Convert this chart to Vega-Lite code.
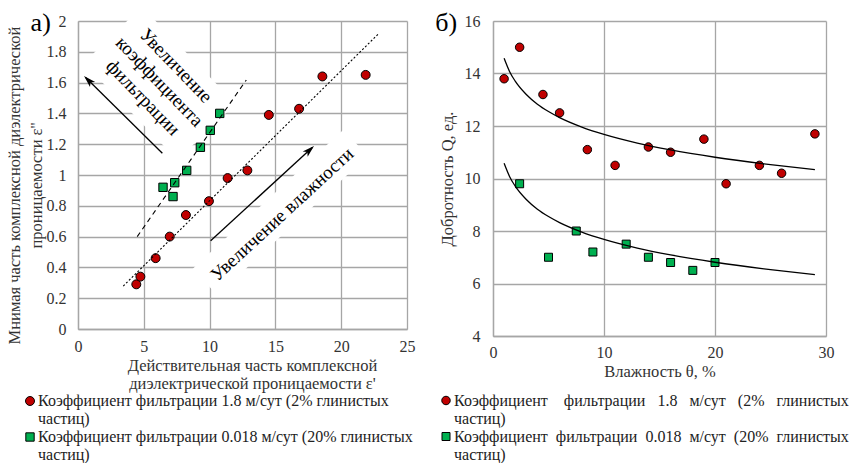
{
  "$schema": "https://vega.github.io/schema/vega-lite/v6.json",
  "padding": {"left": 6, "top": 6, "right": 0, "bottom": 0},
  "background": "white",
  "spacing": 20,
  "config": {
    "font": "Liberation Serif, Times New Roman, DejaVu Serif, serif",
    "view": {"stroke": null},
    "axis": {
      "grid": true, "gridColor": "#a6a6a6", "gridWidth": 1.3,
      "domainColor": "#a6a6a6", "domainWidth": 1.3, "ticks": false, "tickSize": 0,
      "labelOverlap": false, "labelBound": false, "labelFlush": false,
      "labelFont": "Liberation Serif, Times New Roman, DejaVu Serif, serif", "labelFontSize": 16, "labelColor": "#333333",
      "titleFont": "Liberation Serif, Times New Roman, DejaVu Serif, serif", "titleFontSize": 16.5, "titleFontWeight": "normal", "titleColor": "#333333"
    },
    "legend": {
      "labelFont": "Liberation Serif, Times New Roman, DejaVu Serif, serif", "labelFontSize": 16, "labelColor": "#222222", "labelLimit": 1000
    },
    "text": {"font": "Liberation Serif, Times New Roman, DejaVu Serif, serif"}
  },
  "resolve": {
    "scale": {"color": "independent", "shape": "independent", "size": "independent"},
    "legend": {"color": "independent", "shape": "independent"}
  },
  "hconcat": [
    {
      "width": 329,
      "height": 308,
      "layer": [
        {
          "data": {"values": [{}]},
          "mark": {"type": "point", "shape": "M-1,-0.6H1V0.6H-1Z", "filled": true, "fill": "white", "stroke": null, "opacity": 1, "size": 18225, "angle": 46},
          "encoding": {
            "x": {"datum": 6.2, "type": "quantitative", "scale": {"domain": [0, 25], "nice": false},
              "axis": {
                "title": ["Действительная часть комплексной", "диэлектрической проницаемости ε'"],
                "values": [0, 5, 10, 15, 20, 25], "tickCount": 6, "labelPadding": 9, "titlePadding": 3,
                "titleLineHeight": 18, "titleX": 174
              }},
            "y": {"datum": 1.595, "type": "quantitative", "scale": {"domain": [0, 2], "nice": false},
              "axis": {
                "title": ["Мнимая часть комплексной диэлектрической", "проницаемости ε''"],
                "values": [0, 0.2, 0.4, 0.6, 0.8, 1, 1.2, 1.4, 1.6, 1.8, 2], "tickCount": 11, "format": "~g",
                "labelPadding": 12, "titlePadding": 2, "titleLineHeight": 22, "titleY": 164
              }}
          }
        },
        {
          "data": {"values": [{}]},
          "mark": {"type": "point", "shape": "M-1,-0.2H1V0.15H-1Z", "filled": true, "fill": "white", "stroke": null, "opacity": 1, "size": 42025, "angle": -42.7},
          "encoding": {"x": {"datum": 15.5, "type": "quantitative"}, "y": {"datum": 0.745, "type": "quantitative"}}
        },
        {
          "data": {"values": [
            {"e1": 4.43, "e2": 0.29, "series": "Коэффициент фильтрации 1.8 м/сут (2% глинистых частиц)"},
            {"e1": 4.74, "e2": 0.34, "series": "Коэффициент фильтрации 1.8 м/сут (2% глинистых частиц)"},
            {"e1": 5.9, "e2": 0.46, "series": "Коэффициент фильтрации 1.8 м/сут (2% глинистых частиц)"},
            {"e1": 6.97, "e2": 0.6, "series": "Коэффициент фильтрации 1.8 м/сут (2% глинистых частиц)"},
            {"e1": 8.2, "e2": 0.74, "series": "Коэффициент фильтрации 1.8 м/сут (2% глинистых частиц)"},
            {"e1": 9.95, "e2": 0.83, "series": "Коэффициент фильтрации 1.8 м/сут (2% глинистых частиц)"},
            {"e1": 11.37, "e2": 0.98, "series": "Коэффициент фильтрации 1.8 м/сут (2% глинистых частиц)"},
            {"e1": 12.87, "e2": 1.03, "series": "Коэффициент фильтрации 1.8 м/сут (2% глинистых частиц)"},
            {"e1": 14.5, "e2": 1.39, "series": "Коэффициент фильтрации 1.8 м/сут (2% глинистых частиц)"},
            {"e1": 16.8, "e2": 1.43, "series": "Коэффициент фильтрации 1.8 м/сут (2% глинистых частиц)"},
            {"e1": 18.57, "e2": 1.64, "series": "Коэффициент фильтрации 1.8 м/сут (2% глинистых частиц)"},
            {"e1": 21.86, "e2": 1.65, "series": "Коэффициент фильтрации 1.8 м/сут (2% глинистых частиц)"},
            {"e1": 6.46, "e2": 0.92, "series": "Коэффициент фильтрации 0.018 м/сут (20% глинистых частиц)"},
            {"e1": 7.22, "e2": 0.86, "series": "Коэффициент фильтрации 0.018 м/сут (20% глинистых частиц)"},
            {"e1": 7.35, "e2": 0.95, "series": "Коэффициент фильтрации 0.018 м/сут (20% глинистых частиц)"},
            {"e1": 8.26, "e2": 1.03, "series": "Коэффициент фильтрации 0.018 м/сут (20% глинистых частиц)"},
            {"e1": 9.3, "e2": 1.18, "series": "Коэффициент фильтрации 0.018 м/сут (20% глинистых частиц)"},
            {"e1": 10.05, "e2": 1.29, "series": "Коэффициент фильтрации 0.018 м/сут (20% глинистых частиц)"},
            {"e1": 10.77, "e2": 1.4, "series": "Коэффициент фильтрации 0.018 м/сут (20% глинистых частиц)"}
          ]},
          "mark": {"type": "point", "filled": true, "stroke": "black", "strokeWidth": 1, "opacity": 1},
          "encoding": {
            "x": {
              "field": "e1", "type": "quantitative",
              "scale": {"domain": [0, 25], "nice": false},
              "axis": {
                "title": ["Действительная часть комплексной", "диэлектрической проницаемости ε'"],
                "values": [0, 5, 10, 15, 20, 25], "tickCount": 6, "labelPadding": 9, "titlePadding": 3,
                "titleLineHeight": 18, "titleX": 174
              }
            },
            "y": {
              "field": "e2", "type": "quantitative",
              "scale": {"domain": [0, 2], "nice": false},
              "axis": {
                "title": ["Мнимая часть комплексной диэлектрической", "проницаемости ε''"],
                "values": [0, 0.2, 0.4, 0.6, 0.8, 1, 1.2, 1.4, 1.6, 1.8, 2], "tickCount": 11, "format": "~g",
                "labelPadding": 12, "titlePadding": 2, "titleLineHeight": 22, "titleY": 164
              }
            },
            "color": {
              "field": "series", "type": "nominal",
              "scale": {"domain": ["Коэффициент фильтрации 1.8 м/сут (2% глинистых частиц)", "Коэффициент фильтрации 0.018 м/сут (20% глинистых частиц)"], "range": ["#c00000", "#00b050"]},
              "legend": {
                "title": null, "orient": "none", "legendX": -56, "legendY": 372, "direction": "vertical",
                "symbolSize": 64, "symbolStrokeColor": "black", "symbolStrokeWidth": 1, "labelOffset": 0,
                "rowPadding": 2, "padding": 0, "labelBaseline": "middle",
                "labelExpr": "[slice(datum.label, 0, indexof(datum.label, ' частиц')), 'частиц)']",
                "encode": {"labels": {"update": {"dy": {"value": 9}, "lineHeight": {"value": 18}}}}
              }
            },
            "shape": {
              "field": "series", "type": "nominal",
              "scale": {"domain": ["Коэффициент фильтрации 1.8 м/сут (2% глинистых частиц)", "Коэффициент фильтрации 0.018 м/сут (20% глинистых частиц)"], "range": ["circle", "square"]},
              "legend": {
                "title": null, "orient": "none", "legendX": -56, "legendY": 372, "direction": "vertical",
                "symbolSize": 64, "symbolStrokeColor": "black", "symbolStrokeWidth": 1, "labelOffset": 0,
                "rowPadding": 2, "padding": 0, "labelBaseline": "middle",
                "labelExpr": "[slice(datum.label, 0, indexof(datum.label, ' частиц')), 'частиц)']",
                "encode": {"labels": {"update": {"dy": {"value": 9}, "lineHeight": {"value": 18}}}}
              }
            },
            "size": {
              "field": "series", "type": "nominal",
              "scale": {"domain": ["Коэффициент фильтрации 1.8 м/сут (2% глинистых частиц)", "Коэффициент фильтрации 0.018 м/сут (20% глинистых частиц)"], "range": [80, 70]},
              "legend": null
            }
          }
        },
        {
          "data": {"values": [{}]},
          "mark": {"type": "rule", "color": "black", "strokeWidth": 1.1, "strokeDash": [2, 2]},
          "encoding": {"x": {"datum": 3.44, "type": "quantitative"}, "y": {"datum": 0.279, "type": "quantitative"}, "x2": {"datum": 22.87}, "y2": {"datum": 1.92}}
        },
        {
          "data": {"values": [{}]},
          "mark": {"type": "rule", "color": "black", "strokeWidth": 1.1, "strokeDash": [5, 4]},
          "encoding": {"x": {"datum": 4.5, "type": "quantitative"}, "y": {"datum": 0.6, "type": "quantitative"}, "x2": {"datum": 12.79}, "y2": {"datum": 1.617}}
        },
        {
          "data": {"values": [{}]},
          "mark": {"type": "rule", "color": "black", "strokeWidth": 1.3},
          "encoding": {"x": {"datum": 6.41, "type": "quantitative"}, "y": {"datum": 1.141, "type": "quantitative"}, "x2": {"datum": 0.6}, "y2": {"datum": 1.632}}
        },
        {
          "data": {"values": [{}]},
          "mark": {"type": "point", "shape": "M0,-1L0.55,0.8L0,0.35L-0.55,0.8Z", "filled": true, "fill": "black", "stroke": null, "opacity": 1, "size": 178, "angle": -45.4},
          "encoding": {"x": {"datum": 0.82, "type": "quantitative"}, "y": {"datum": 1.612, "type": "quantitative"}}
        },
        {
          "data": {"values": [{}]},
          "mark": {"type": "rule", "color": "black", "strokeWidth": 1.3},
          "encoding": {"x": {"datum": 10.08, "type": "quantitative"}, "y": {"datum": 0.573, "type": "quantitative"}, "x2": {"datum": 17.8}, "y2": {"datum": 1.178}}
        },
        {
          "data": {"values": [{}]},
          "mark": {"type": "point", "shape": "M0,-1L0.55,0.8L0,0.35L-0.55,0.8Z", "filled": true, "fill": "black", "stroke": null, "opacity": 1, "size": 178, "angle": 47.5},
          "encoding": {"x": {"datum": 17.56, "type": "quantitative"}, "y": {"datum": 1.159, "type": "quantitative"}}
        },
        {
          "data": {"values": [{}]},
          "mark": {"type": "text", "fontSize": 19, "lineHeight": 23, "angle": 46, "align": "center", "baseline": "middle", "color": "black"},
          "encoding": {"x": {"datum": 7.45, "type": "quantitative"}, "y": {"datum": 1.71, "type": "quantitative"}, "text": {"value": ["Увеличение", "коэффициента", "фильтрации"]}}
        },
        {
          "data": {"values": [{}]},
          "mark": {"type": "text", "fontSize": 19, "angle": -42.7, "align": "center", "baseline": "middle", "color": "black"},
          "encoding": {"x": {"datum": 15.5, "type": "quantitative"}, "y": {"datum": 0.745, "type": "quantitative"}, "text": {"value": "Увеличение влажности"}}
        },
        {
          "data": {"values": [{}]},
          "mark": {"type": "text", "fontSize": 26, "align": "left", "baseline": "middle", "color": "black"},
          "encoding": {"x": {"datum": -3.6, "type": "quantitative"}, "y": {"datum": 1.99, "type": "quantitative"}, "text": {"value": "а)"}}
        }
      ]
    },
    {
      "width": 333,
      "height": 315,
      "layer": [
        {
          "data": {"values": [
            {"theta": 1, "Q": 13.8, "series": "Коэффициент фильтрации 1.8 м/сут (2% глинистых частиц)"},
            {"theta": 2.4, "Q": 15.0, "series": "Коэффициент фильтрации 1.8 м/сут (2% глинистых частиц)"},
            {"theta": 4.5, "Q": 13.2, "series": "Коэффициент фильтрации 1.8 м/сут (2% глинистых частиц)"},
            {"theta": 6, "Q": 12.5, "series": "Коэффициент фильтрации 1.8 м/сут (2% глинистых частиц)"},
            {"theta": 8.5, "Q": 11.1, "series": "Коэффициент фильтрации 1.8 м/сут (2% глинистых частиц)"},
            {"theta": 11, "Q": 10.5, "series": "Коэффициент фильтрации 1.8 м/сут (2% глинистых частиц)"},
            {"theta": 14, "Q": 11.2, "series": "Коэффициент фильтрации 1.8 м/сут (2% глинистых частиц)"},
            {"theta": 16, "Q": 11.0, "series": "Коэффициент фильтрации 1.8 м/сут (2% глинистых частиц)"},
            {"theta": 19, "Q": 11.5, "series": "Коэффициент фильтрации 1.8 м/сут (2% глинистых частиц)"},
            {"theta": 21, "Q": 9.8, "series": "Коэффициент фильтрации 1.8 м/сут (2% глинистых частиц)"},
            {"theta": 24, "Q": 10.5, "series": "Коэффициент фильтрации 1.8 м/сут (2% глинистых частиц)"},
            {"theta": 26, "Q": 10.2, "series": "Коэффициент фильтрации 1.8 м/сут (2% глинистых частиц)"},
            {"theta": 29, "Q": 11.7, "series": "Коэффициент фильтрации 1.8 м/сут (2% глинистых частиц)"},
            {"theta": 2.4, "Q": 9.8, "series": "Коэффициент фильтрации 0.018 м/сут (20% глинистых частиц)"},
            {"theta": 5, "Q": 7.0, "series": "Коэффициент фильтрации 0.018 м/сут (20% глинистых частиц)"},
            {"theta": 7.5, "Q": 8.0, "series": "Коэффициент фильтрации 0.018 м/сут (20% глинистых частиц)"},
            {"theta": 9, "Q": 7.2, "series": "Коэффициент фильтрации 0.018 м/сут (20% глинистых частиц)"},
            {"theta": 12, "Q": 7.5, "series": "Коэффициент фильтрации 0.018 м/сут (20% глинистых частиц)"},
            {"theta": 14, "Q": 7.0, "series": "Коэффициент фильтрации 0.018 м/сут (20% глинистых частиц)"},
            {"theta": 16, "Q": 6.8, "series": "Коэффициент фильтрации 0.018 м/сут (20% глинистых частиц)"},
            {"theta": 18, "Q": 6.5, "series": "Коэффициент фильтрации 0.018 м/сут (20% глинистых частиц)"},
            {"theta": 20, "Q": 6.8, "series": "Коэффициент фильтрации 0.018 м/сут (20% глинистых частиц)"}
          ]},
          "mark": {"type": "point", "filled": true, "stroke": "black", "strokeWidth": 1, "opacity": 1},
          "encoding": {
            "x": {
              "field": "theta", "type": "quantitative",
              "scale": {"domain": [0, 30], "nice": false},
              "axis": {"title": "Влажность θ, %", "values": [0, 10, 20, 30], "tickCount": 4, "labelPadding": 8, "titlePadding": 3}
            },
            "y": {
              "field": "Q", "type": "quantitative",
              "scale": {"domain": [4, 16], "nice": false, "zero": false},
              "axis": {"title": "Добротность Q, ед.", "values": [4, 6, 8, 10, 12, 14, 16], "tickCount": 7, "labelPadding": 13, "titlePadding": 9}
            },
            "color": {
              "field": "series", "type": "nominal",
              "scale": {"domain": ["Коэффициент фильтрации 1.8 м/сут (2% глинистых частиц)", "Коэффициент фильтрации 0.018 м/сут (20% глинистых частиц)"], "range": ["#c00000", "#00b050"]},
              "legend": {
                "title": null, "orient": "none", "legendX": -55, "legendY": 371.5, "direction": "vertical",
                "symbolSize": 64, "symbolStrokeColor": "black", "symbolStrokeWidth": 1, "labelOffset": 0,
                "rowPadding": 2, "padding": 0, "labelBaseline": "middle",
                "labelExpr": "indexof(datum.label, '1.8') >= 0 ? ['Коэффициент\u00a0\u00a0\u00a0\u00a0фильтрации\u00a0\u00a0\u00a01.8\u00a0\u00a0\u00a0м/сут\u00a0\u00a0\u00a0(2%\u00a0\u00a0\u00a0глинистых', 'частиц)'] : ['Коэффициент\u00a0\u00a0фильтрации\u00a0\u00a00.018\u00a0\u00a0м/сут\u00a0\u00a0(20%\u00a0\u00a0глинистых', 'частиц)']",
                "encode": {"labels": {"update": {"dy": {"value": 9}, "lineHeight": {"value": 18}}}}
              }
            },
            "shape": {
              "field": "series", "type": "nominal",
              "scale": {"domain": ["Коэффициент фильтрации 1.8 м/сут (2% глинистых частиц)", "Коэффициент фильтрации 0.018 м/сут (20% глинистых частиц)"], "range": ["circle", "square"]},
              "legend": {
                "title": null, "orient": "none", "legendX": -55, "legendY": 371.5, "direction": "vertical",
                "symbolSize": 64, "symbolStrokeColor": "black", "symbolStrokeWidth": 1, "labelOffset": 0,
                "rowPadding": 2, "padding": 0, "labelBaseline": "middle",
                "labelExpr": "indexof(datum.label, '1.8') >= 0 ? ['Коэффициент\u00a0\u00a0\u00a0\u00a0фильтрации\u00a0\u00a0\u00a01.8\u00a0\u00a0\u00a0м/сут\u00a0\u00a0\u00a0(2%\u00a0\u00a0\u00a0глинистых', 'частиц)'] : ['Коэффициент\u00a0\u00a0фильтрации\u00a0\u00a00.018\u00a0\u00a0м/сут\u00a0\u00a0(20%\u00a0\u00a0глинистых', 'частиц)']",
                "encode": {"labels": {"update": {"dy": {"value": 9}, "lineHeight": {"value": 18}}}}
              }
            },
            "size": {
              "field": "series", "type": "nominal",
              "scale": {"domain": ["Коэффициент фильтрации 1.8 м/сут (2% глинистых частиц)", "Коэффициент фильтрации 0.018 м/сут (20% глинистых частиц)"], "range": [72, 64]},
              "legend": null
            }
          }
        },
        {
          "data": {"values": [
            {"theta": 1, "Q": 14.58, "curve": "red"},
            {"theta": 1.5, "Q": 14.07, "curve": "red"},
            {"theta": 2, "Q": 13.71, "curve": "red"},
            {"theta": 3, "Q": 13.2, "curve": "red"},
            {"theta": 4, "Q": 12.83, "curve": "red"},
            {"theta": 5, "Q": 12.55, "curve": "red"},
            {"theta": 6, "Q": 12.32, "curve": "red"},
            {"theta": 8, "Q": 11.96, "curve": "red"},
            {"theta": 10, "Q": 11.68, "curve": "red"},
            {"theta": 13, "Q": 11.35, "curve": "red"},
            {"theta": 16, "Q": 11.09, "curve": "red"},
            {"theta": 20, "Q": 10.81, "curve": "red"},
            {"theta": 25, "Q": 10.53, "curve": "red"},
            {"theta": 29, "Q": 10.34, "curve": "red"},
            {"theta": 1, "Q": 10.58, "curve": "green"},
            {"theta": 1.5, "Q": 10.07, "curve": "green"},
            {"theta": 2, "Q": 9.71, "curve": "green"},
            {"theta": 3, "Q": 9.2, "curve": "green"},
            {"theta": 4, "Q": 8.83, "curve": "green"},
            {"theta": 5, "Q": 8.55, "curve": "green"},
            {"theta": 6, "Q": 8.32, "curve": "green"},
            {"theta": 8, "Q": 7.96, "curve": "green"},
            {"theta": 10, "Q": 7.68, "curve": "green"},
            {"theta": 13, "Q": 7.35, "curve": "green"},
            {"theta": 16, "Q": 7.09, "curve": "green"},
            {"theta": 20, "Q": 6.81, "curve": "green"},
            {"theta": 25, "Q": 6.53, "curve": "green"},
            {"theta": 29, "Q": 6.34, "curve": "green"}
          ]},
          "mark": {"type": "line", "color": "black", "strokeWidth": 1.3, "interpolate": "monotone"},
          "encoding": {
            "x": {"field": "theta", "type": "quantitative"},
            "y": {"field": "Q", "type": "quantitative"},
            "detail": {"field": "curve", "type": "nominal"}
          }
        },
        {
          "data": {"values": [{}]},
          "mark": {"type": "text", "fontSize": 26, "align": "left", "baseline": "middle", "color": "black"},
          "encoding": {"x": {"datum": -5.2, "type": "quantitative"}, "y": {"datum": 15.92, "type": "quantitative"}, "text": {"value": "б)"}}
        }
      ]
    }
  ]
}
